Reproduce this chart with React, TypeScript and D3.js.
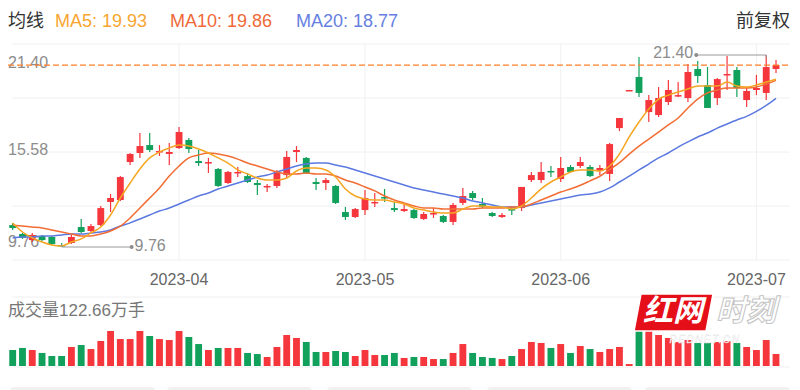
import React, { useEffect, useRef } from 'react';
import * as d3 from 'd3';

// K线数据 (前复权), 2023-03 ~ 2023-07
const opens = [11.09, 10.55, 10.18, 10.43, 10.37, 9.88, 10.00, 10.97, 10.73, 11.09, 12.49, 12.61, 14.91, 15.46, 15.94, 15.52, 15.40, 15.76, 16.25, 14.97, 14.85, 14.49, 13.64, 14.25, 14.06, 13.64, 13.40, 13.46, 14.12, 15.52, 15.16, 13.70, 13.64, 13.46, 11.88, 11.58, 12.00, 12.43, 12.79, 12.12, 11.94, 12.00, 11.46, 11.76, 11.64, 11.28, 12.43, 13.03, 12.37, 11.82, 11.58, 12.06, 12.12, 13.82, 13.82, 14.37, 13.88, 14.61, 14.67, 14.61, 14.37, 14.19, 16.97, 19.22, 20.07, 17.94, 17.76, 18.55, 18.91, 18.79, 20.55, 19.58, 18.79, 20.19, 20.49, 18.67, 19.28, 19.10, 20.55];
const highs = [11.22, 10.61, 10.61, 10.49, 10.43, 10.00, 10.49, 11.46, 11.15, 12.25, 12.97, 14.06, 15.46, 16.67, 16.67, 15.94, 16.07, 17.04, 16.37, 15.64, 15.16, 14.55, 14.37, 14.61, 14.25, 13.82, 13.58, 14.43, 15.58, 15.88, 15.22, 13.94, 13.94, 13.52, 12.19, 12.12, 13.22, 13.03, 13.28, 12.49, 12.37, 12.06, 11.88, 12.12, 11.70, 12.43, 13.34, 13.16, 12.73, 11.88, 11.82, 12.25, 13.40, 14.31, 14.91, 14.67, 15.22, 14.73, 15.22, 14.73, 14.73, 16.07, 17.58, 19.28, 21.28, 18.97, 19.46, 19.88, 19.76, 20.85, 21.04, 20.67, 20.00, 21.34, 20.67, 19.46, 20.19, 21.40, 21.09];
const lows = [10.79, 10.25, 10.06, 10.12, 9.88, 9.76, 9.94, 10.61, 10.67, 11.03, 11.88, 12.55, 14.73, 15.16, 15.52, 15.28, 14.73, 15.70, 15.46, 14.67, 14.25, 13.40, 13.58, 14.00, 13.64, 12.91, 13.09, 13.34, 13.94, 14.91, 14.19, 13.22, 13.22, 12.37, 11.40, 11.52, 11.70, 12.19, 12.49, 11.88, 11.88, 11.46, 11.40, 11.52, 11.22, 11.09, 12.31, 12.61, 12.12, 11.58, 11.52, 11.70, 11.94, 13.70, 13.64, 14.00, 13.70, 14.25, 14.55, 14.00, 14.12, 13.76, 16.79, 19.22, 18.85, 17.34, 17.64, 18.37, 18.85, 18.55, 19.70, 18.19, 18.37, 19.28, 18.85, 18.25, 18.97, 18.67, 20.31];
const closes = [10.91, 10.31, 10.49, 10.18, 9.94, 9.82, 10.37, 10.67, 11.03, 12.12, 12.73, 14.00, 15.40, 15.88, 15.64, 15.58, 15.52, 16.73, 15.70, 14.85, 14.91, 13.46, 14.31, 14.31, 13.70, 13.52, 13.46, 14.25, 15.22, 15.64, 14.25, 13.58, 13.82, 12.43, 11.58, 12.06, 12.73, 12.49, 12.73, 12.00, 12.06, 11.52, 11.76, 11.82, 11.28, 12.31, 12.85, 12.73, 12.19, 11.64, 11.70, 12.00, 13.40, 14.12, 14.31, 14.31, 14.55, 14.31, 14.91, 14.06, 14.55, 16.00, 17.58, 19.28, 19.10, 18.67, 18.79, 19.28, 18.97, 20.37, 20.13, 18.19, 19.94, 20.25, 19.40, 19.22, 19.40, 20.67, 20.79];
// 成交量 (万手)
const volumes = [163, 184, 163, 133, 102, 102, 194, 214, 173, 255, 357, 275, 275, 357, 306, 275, 265, 357, 296, 224, 163, 184, 184, 184, 133, 122, 92, 194, 316, 286, 245, 143, 143, 153, 143, 102, 163, 112, 112, 133, 82, 92, 92, 71, 71, 133, 224, 133, 92, 82, 71, 102, 173, 245, 235, 184, 224, 133, 204, 173, 143, 173, 194, 20, 408, 377, 316, 286, 245, 265, 235, 235, 245, 255, 235, 194, 163, 265, 122.66];
// 均线
const ma5 = [11.22, 10.67, 10.31, 10.06, 9.88, 9.82, 10.06, 10.25, 10.61, 10.97, 11.70, 12.73, 13.64, 14.49, 15.16, 15.52, 15.76, 15.94, 15.88, 15.70, 15.46, 15.16, 14.85, 14.43, 14.19, 13.94, 13.82, 13.82, 13.94, 14.37, 14.55, 14.55, 14.43, 14.00, 13.28, 12.85, 12.67, 12.61, 12.61, 12.49, 12.37, 12.12, 12.00, 11.88, 11.82, 11.82, 12.06, 12.25, 12.25, 12.19, 12.19, 12.06, 12.25, 12.73, 13.28, 13.70, 14.00, 14.31, 14.43, 14.43, 14.37, 14.67, 15.40, 16.43, 17.34, 18.12, 18.73, 18.97, 19.16, 19.34, 19.52, 19.52, 19.52, 19.76, 19.52, 19.46, 19.58, 19.76, 19.93];
const ma10 = [11.09, 11.03, 10.97, 10.91, 10.79, 10.67, 10.55, 10.43, 10.43, 10.55, 10.73, 11.03, 11.52, 12.12, 12.73, 13.34, 14.06, 14.67, 15.16, 15.34, 15.46, 15.40, 15.28, 15.09, 14.85, 14.67, 14.49, 14.31, 14.19, 14.19, 14.25, 14.19, 14.19, 14.06, 13.82, 13.64, 13.40, 13.16, 12.85, 12.61, 12.43, 12.25, 12.12, 12.12, 12.06, 12.06, 12.06, 12.06, 12.12, 12.12, 12.12, 12.19, 12.19, 12.37, 12.61, 12.85, 13.09, 13.28, 13.50, 13.77, 14.05, 14.45, 14.87, 15.39, 15.87, 16.30, 16.73, 17.16, 17.58, 18.19, 18.73, 19.10, 19.28, 19.40, 19.40, 19.40, 19.46, 19.64, 19.86];
const ma20 = [10.31, 10.37, 10.37, 10.43, 10.43, 10.49, 10.55, 10.55, 10.61, 10.67, 10.79, 11.03, 11.22, 11.46, 11.70, 11.94, 12.12, 12.37, 12.61, 12.85, 13.03, 13.28, 13.46, 13.64, 13.82, 14.00, 14.12, 14.31, 14.49, 14.67, 14.79, 14.85, 14.85, 14.73, 14.61, 14.43, 14.25, 14.06, 13.88, 13.70, 13.52, 13.34, 13.22, 13.09, 12.97, 12.85, 12.73, 12.55, 12.43, 12.31, 12.19, 12.19, 12.19, 12.31, 12.43, 12.55, 12.67, 12.79, 12.91, 12.97, 13.09, 13.34, 13.70, 14.06, 14.43, 14.79, 15.16, 15.46, 15.82, 16.13, 16.43, 16.67, 16.97, 17.22, 17.46, 17.68, 17.98, 18.34, 18.77];

const tickLabels = ['2023-04', '2023-05', '2023-06', '2023-07'];
const tickIndexes = [17, 36, 56, 76];
const axisValues = ['21.40', '15.58', '9.76'];
const maLegend = [
  { label: 'MA5: 19.93', color: '#f7a631', x: 55 },
  { label: 'MA10: 19.86', color: '#ef6a38', x: 170 },
  { label: 'MA20: 18.77', color: '#6680e2', x: 296 },
];
const volumeTitle = '成交量122.66万手';

const RED = '#f5363c';
const GREEN = '#12a15c';
const FONT = "Arial, 'Liberation Sans', 'Noto Sans CJK SC', sans-serif";

const App: React.FC = () => {
  const ref = useRef(null);

  useEffect(() => {
    if (!ref.current) return;
    const svg = d3.select(ref.current);
    svg.selectAll('*').remove();
    svg.style('font-family', FONT);

    const n = closes.length;
    const idx = d3.range(n);
    const top = 44, bottom = 260;

    const x = d3.scaleBand<number>()
      .domain(idx)
      .range([7.8, 780.9])
      .paddingInner(0.3)
      .paddingOuter(0.15);
    const cx = (i: number) => (x(i) || 0) + x.bandwidth() / 2;

    const lo = d3.min(lows) as number;
    const hi = d3.max(highs) as number;
    const y = d3.scaleLinear().domain([lo, hi]).range([247, 55]);
    const yv = d3.scaleLinear().domain([0, d3.max(volumes) as number]).range([366, 326]);

    // 网格
    const grid = svg.append('g').attr('stroke', '#f0f0f0').attr('stroke-width', 1);
    d3.range(5).forEach(k => {
      const gy = top + (k * (bottom - top)) / 4;
      grid.append('line').attr('x1', 12).attr('x2', 790).attr('y1', gy).attr('y2', gy);
    });
    tickIndexes.forEach(i => {
      grid.append('line').attr('x1', cx(i)).attr('x2', cx(i)).attr('y1', top).attr('y2', bottom);
    });
    grid.append('line').attr('x1', 12).attr('x2', 790).attr('y1', 297).attr('y2', 297);
    grid.append('line').attr('x1', 12).attr('x2', 790).attr('y1', 367).attr('y2', 367);

    // y 轴标签
    const axisY = [y(hi) + 9, y((hi + lo) / 2), y(lo) - 4];
    svg.append('g').selectAll('text').data(axisValues).enter().append('text')
      .attr('x', 8)
      .attr('y', (d, k) => axisY[k])
      .attr('dominant-baseline', 'middle')
      .attr('font-size', 16)
      .attr('fill', '#8c8c8c')
      .text(d => d);

    // x 轴标签
    svg.append('g').selectAll('text').data(tickLabels).enter().append('text')
      .attr('x', (d, k) => cx(tickIndexes[k]))
      .attr('y', 281)
      .attr('text-anchor', 'middle')
      .attr('dominant-baseline', 'middle')
      .attr('font-size', 16)
      .attr('fill', '#666')
      .text(d => d);

    const isUp = (i: number) => closes[i] >= opens[i];

    // 成交量
    svg.append('g').selectAll('rect').data(idx).enter().append('rect')
      .attr('x', i => x(i) || 0)
      .attr('width', x.bandwidth())
      .attr('y', i => yv(volumes[i]))
      .attr('height', i => 366 - yv(volumes[i]))
      .attr('fill', i => (isUp(i) ? RED : GREEN));

    // K线
    const candles = svg.append('g').selectAll('g').data(idx).enter().append('g');
    candles.append('line')
      .attr('x1', i => cx(i)).attr('x2', i => cx(i))
      .attr('y1', i => y(highs[i])).attr('y2', i => y(lows[i]))
      .attr('stroke', i => (isUp(i) ? RED : GREEN))
      .attr('stroke-width', 1.2);
    candles.append('rect')
      .attr('x', i => x(i) || 0)
      .attr('width', x.bandwidth())
      .attr('y', i => y(Math.max(opens[i], closes[i])))
      .attr('height', i => Math.max(1.5, Math.abs(y(opens[i]) - y(closes[i]))))
      .attr('fill', i => (isUp(i) ? RED : GREEN));

    // 均线
    const line = d3.line<number>()
      .x((d, i) => cx(i))
      .y(d => y(d))
      .curve(d3.curveMonotoneX);
    [[ma20, '#5b79e0'], [ma10, '#f26d34'], [ma5, '#f5a623']].forEach(([data, color]) => {
      svg.append('path')
        .datum(data as number[])
        .attr('d', line)
        .attr('fill', 'none')
        .attr('stroke', color as string)
        .attr('stroke-width', 1.5);
    });

    // 最新价虚线
    const lastY = y(closes[n - 1]);
    svg.append('line')
      .attr('x1', 8).attr('x2', 790)
      .attr('y1', lastY).attr('y2', lastY)
      .attr('stroke', '#ff7d2a')
      .attr('stroke-width', 1.2)
      .attr('stroke-dasharray', '6,3');

    // 最高/最低标注
    const hiIdx = d3.maxIndex(highs);
    const loIdx = d3.minIndex(lows);
    const mark = svg.append('g').attr('fill', '#8c8c8c').attr('font-size', 16);
    const hy = y(highs[hiIdx]);
    const hx = cx(hiIdx) - 70;
    mark.append('path')
      .attr('d', `M${cx(hiIdx)},${hy + 3}V${hy}H${hx}`)
      .attr('stroke', '#999').attr('fill', 'none');
    mark.append('circle').attr('cx', hx).attr('cy', hy).attr('r', 2);
    mark.append('text').attr('x', hx - 3).attr('y', hy - 1)
      .attr('text-anchor', 'end').attr('dominant-baseline', 'middle')
      .text(highs[hiIdx].toFixed(2));
    const ly = y(lows[loIdx]);
    const lx = cx(loIdx) + 70;
    mark.append('path')
      .attr('d', `M${cx(loIdx)},${ly - 3}V${ly}H${lx}`)
      .attr('stroke', '#999').attr('fill', 'none');
    mark.append('circle').attr('cx', lx).attr('cy', ly).attr('r', 2);
    mark.append('text').attr('x', lx + 3).attr('y', ly)
      .attr('dominant-baseline', 'middle')
      .text(lows[loIdx].toFixed(2));

    // 图例
    svg.append('text').attr('x', 8).attr('y', 27).attr('font-size', 18).attr('fill', '#333').text('均线');
    maLegend.forEach(m => {
      svg.append('text').attr('x', m.x).attr('y', 27).attr('font-size', 18).attr('fill', m.color).text(m.label);
    });
    svg.append('text').attr('x', 790).attr('y', 27).attr('text-anchor', 'end')
      .attr('font-size', 18).attr('fill', '#333').text('前复权');
    svg.append('text').attr('x', 8).attr('y', 312).attr('dominant-baseline', 'middle')
      .attr('font-size', 17).attr('fill', '#777').text(volumeTitle);

    // 底部标签栏
    [10, 167, 327, 487, 645].forEach(px => {
      svg.append('rect').attr('x', px).attr('y', 387).attr('width', 145).attr('height', 10)
        .attr('rx', 4).attr('fill', '#f1f1f1');
    });

    // 水印
    const wm = svg.append('g');
    wm.append('path').attr('d', 'M641,294H713L706,331H634Z').attr('fill', '#e50f1a').attr('stroke', '#fff').attr('stroke-width', 1.5);
    wm.append('text').attr('x', 673).attr('y', 313).attr('text-anchor', 'middle').attr('dominant-baseline', 'middle')
      .attr('font-size', 30).attr('font-weight', 'bold').attr('font-style', 'italic').attr('fill', '#fff').text('红网');
    wm.append('text').attr('x', 746).attr('y', 313).attr('text-anchor', 'middle').attr('dominant-baseline', 'middle')
      .attr('font-size', 30).attr('font-weight', 'bold').attr('font-style', 'italic')
      .attr('fill', '#fff').attr('stroke', '#c4c4c4').attr('stroke-width', 1).text('时刻');
    wm.append('text').attr('x', 705).attr('y', 340).attr('text-anchor', 'middle').attr('dominant-baseline', 'middle')
      .attr('font-size', 10).attr('font-style', 'italic').attr('letter-spacing', 1.5)
      .attr('fill', '#fff').attr('stroke', '#ddd').attr('stroke-width', 0.3).text('REDNET.CN');
  }, []);

  return (
    <svg
      ref={ref}
      width={800}
      height={390}
      style={{ position: 'absolute', left: 0, top: 0, background: '#fff' }}
    />
  );
};

export default App;
